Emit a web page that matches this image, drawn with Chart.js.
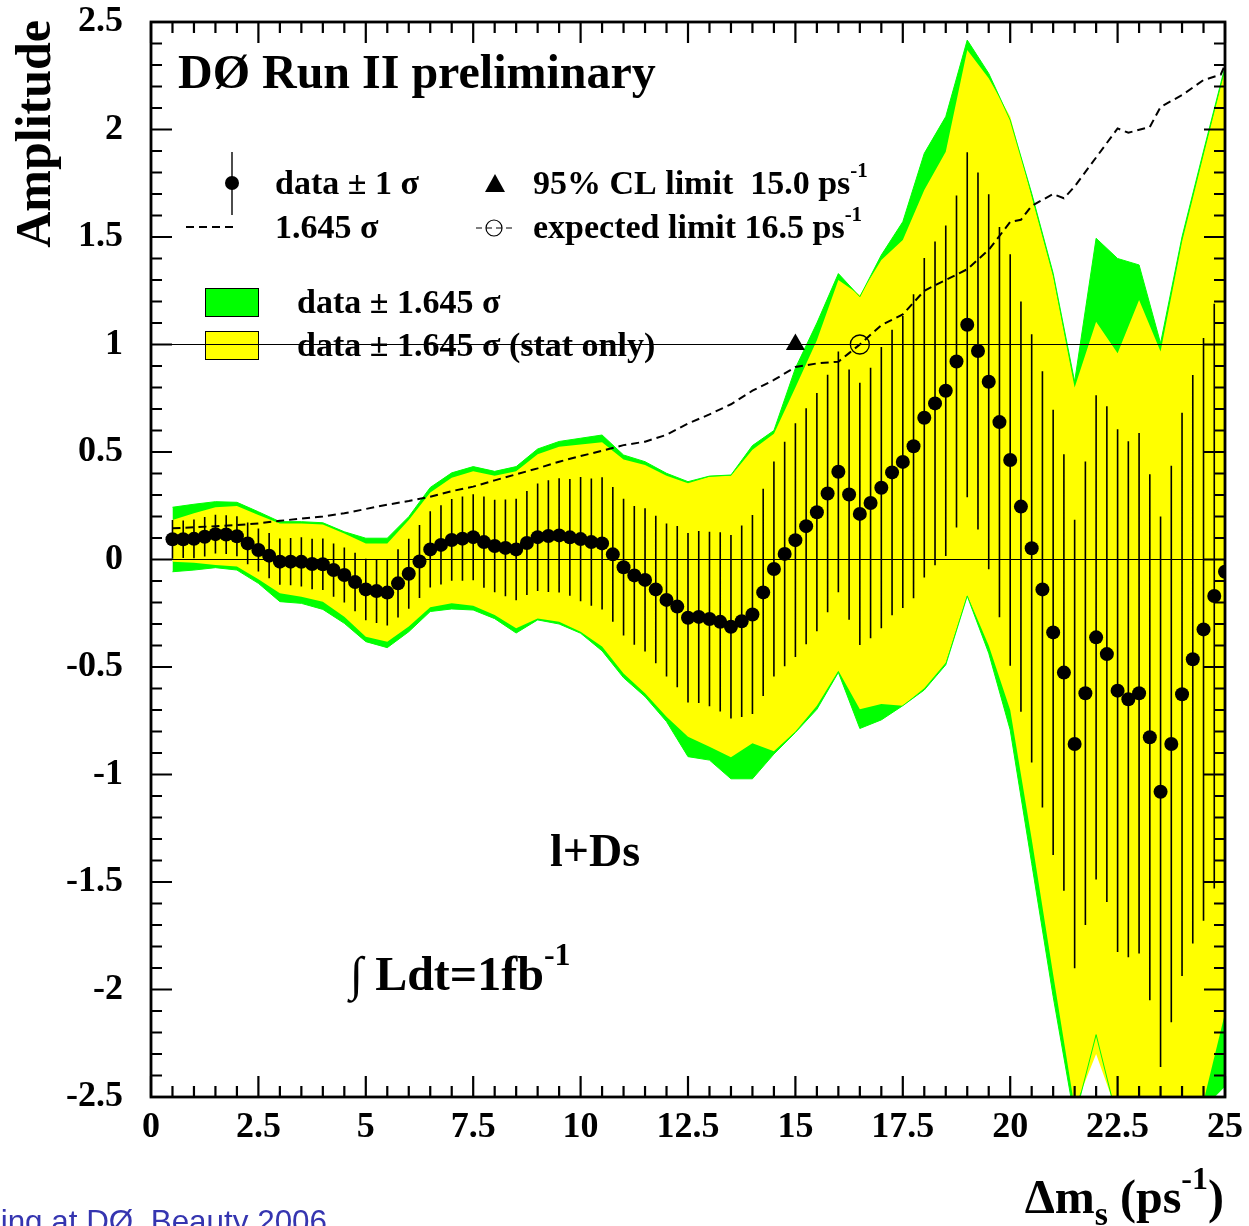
<!DOCTYPE html>
<html>
<head>
<meta charset="utf-8">
<title>Amplitude scan, l+Ds</title>
<script src="https://cdn.jsdelivr.net/npm/chart.js@4.4.1/dist/chart.umd.min.js"></script>
<style>
  html, body { margin: 0; padding: 0; background: #ffffff; }
  #wrap { position: relative; width: 1249px; height: 1226px; overflow: hidden; background: #ffffff; }
  canvas { display: block; }
</style>
</head>
<body>
<div id="wrap"><canvas id="chart" width="1249" height="1226"></canvas></div>
<script>
// ---- measured amplitude per Δm_s hypothesis (ps^-1) ----
const dmValues = [
  0.5, 0.75, 1.0, 1.25, 1.5, 1.75, 2.0, 2.25, 2.5, 2.75,
  3.0, 3.25, 3.5, 3.75, 4.0, 4.25, 4.5, 4.75, 5.0, 5.25,
  5.5, 5.75, 6.0, 6.25, 6.5, 6.75, 7.0, 7.25, 7.5, 7.75,
  8.0, 8.25, 8.5, 8.75, 9.0, 9.25, 9.5, 9.75, 10.0, 10.25,
  10.5, 10.75, 11.0, 11.25, 11.5, 11.75, 12.0, 12.25, 12.5, 12.75,
  13.0, 13.25, 13.5, 13.75, 14.0, 14.25, 14.5, 14.75, 15.0, 15.25,
  15.5, 15.75, 16.0, 16.25, 16.5, 16.75, 17.0, 17.25, 17.5, 17.75,
  18.0, 18.25, 18.5, 18.75, 19.0, 19.25, 19.5, 19.75, 20.0, 20.25,
  20.5, 20.75, 21.0, 21.25, 21.5, 21.75, 22.0, 22.25, 22.5, 22.75,
  23.0, 23.25, 23.5, 23.75, 24.0, 24.25, 24.5, 24.75, 25.0
];
const amplitude = [
  0.094, 0.094, 0.096, 0.106, 0.118, 0.116, 0.108, 0.075, 0.044, 0.018,
  -0.010, -0.010, -0.011, -0.021, -0.022, -0.049, -0.072, -0.105, -0.139, -0.147,
  -0.154, -0.111, -0.066, -0.009, 0.047, 0.068, 0.091, 0.097, 0.104, 0.081,
  0.063, 0.054, 0.047, 0.077, 0.104, 0.109, 0.112, 0.103, 0.095, 0.081,
  0.075, 0.024, -0.036, -0.074, -0.095, -0.139, -0.188, -0.219, -0.271, -0.267,
  -0.277, -0.290, -0.313, -0.287, -0.256, -0.153, -0.044, 0.026, 0.090, 0.155,
  0.220, 0.307, 0.408, 0.302, 0.212, 0.263, 0.334, 0.405, 0.454, 0.527,
  0.659, 0.726, 0.785, 0.921, 1.092, 0.970, 0.827, 0.639, 0.463, 0.246,
  0.052, -0.139, -0.339, -0.526, -0.858, -0.622, -0.362, -0.440, -0.610, -0.650,
  -0.622, -0.827, -1.080, -0.858, -0.627, -0.464, -0.325, -0.170, -0.057
];
// 1 sigma uncertainty on each amplitude
const sigma = [
  0.090, 0.087, 0.090, 0.092, 0.090, 0.090, 0.093, 0.097, 0.100, 0.105,
  0.108, 0.110, 0.115, 0.117, 0.120, 0.124, 0.128, 0.136, 0.143, 0.148,
  0.153, 0.159, 0.163, 0.170, 0.177, 0.184, 0.190, 0.196, 0.200, 0.212,
  0.215, 0.225, 0.236, 0.242, 0.250, 0.260, 0.266, 0.272, 0.289, 0.296,
  0.308, 0.313, 0.318, 0.323, 0.333, 0.343, 0.356, 0.375, 0.394, 0.400,
  0.406, 0.417, 0.427, 0.445, 0.463, 0.482, 0.500, 0.522, 0.544, 0.549,
  0.554, 0.552, 0.560, 0.582, 0.610, 0.629, 0.654, 0.664, 0.679, 0.707,
  0.743, 0.753, 0.769, 0.772, 0.802, 0.830, 0.872, 0.908, 0.957, 0.954,
  0.996, 1.015, 1.035, 1.015, 1.043, 1.078, 1.126, 1.153, 1.216, 1.200,
  1.210, 1.223, 1.280, 1.294, 1.310, 1.322, 1.355, 1.360, 1.380
];

// ---- data ± 1.645 sigma bands (total and stat only) ----
const bandDm = [
  0.5, 1.0, 1.5, 2.0, 2.5, 3.0, 3.5, 4.0, 4.5, 5.0,
  5.5, 6.0, 6.5, 7.0, 7.5, 8.0, 8.5, 9.0, 9.5, 10.0,
  10.5, 11.0, 11.5, 12.0, 12.5, 13.0, 13.5, 14.0, 14.5, 15.0,
  15.5, 16.0, 16.5, 17.0, 17.5, 18.0, 18.5, 19.0, 19.5, 20.0,
  20.5, 21.0, 21.5, 22.0, 22.5, 23.0, 23.5, 24.0, 24.5, 25.0
];
const totalHi = [
  0.243, 0.257, 0.269, 0.266, 0.222, 0.176, 0.176, 0.171, 0.129, 0.099,
  0.099, 0.199, 0.335, 0.403, 0.432, 0.410, 0.432, 0.514, 0.549, 0.564,
  0.579, 0.486, 0.455, 0.401, 0.362, 0.388, 0.393, 0.530, 0.600, 0.890,
  1.100, 1.330, 1.222, 1.416, 1.571, 1.889, 2.060, 2.416, 2.261, 2.044,
  1.703, 1.331, 0.827, 1.494, 1.400, 1.370, 1.006, 1.501, 1.900, 2.292
];
const totalLo = [
  -0.057, -0.049, -0.038, -0.049, -0.111, -0.196, -0.204, -0.232, -0.297, -0.382,
  -0.410, -0.336, -0.242, -0.230, -0.235, -0.275, -0.342, -0.281, -0.300, -0.343,
  -0.425, -0.550, -0.638, -0.754, -0.917, -0.933, -1.020, -1.020, -0.905, -0.805,
  -0.697, -0.525, -0.786, -0.746, -0.680, -0.607, -0.490, -0.170, -0.436, -0.793,
  -1.413, -2.033, -2.600, -2.210, -2.610, -2.610, -3.190, -2.780, -2.550, -2.450
];
const statHi = [
  0.184, 0.215, 0.243, 0.249, 0.207, 0.168, 0.168, 0.163, 0.121, 0.075,
  0.075, 0.184, 0.312, 0.380, 0.410, 0.390, 0.410, 0.490, 0.525, 0.535,
  0.545, 0.465, 0.440, 0.390, 0.355, 0.385, 0.390, 0.510, 0.585, 0.800,
  1.020, 1.300, 1.230, 1.393, 1.486, 1.719, 1.897, 2.370, 2.238, 2.060,
  1.687, 1.315, 0.800, 1.106, 0.959, 1.207, 0.967, 1.478, 1.880, 2.277
];
const statLo = [
  -0.010, -0.015, -0.026, -0.033, -0.092, -0.157, -0.173, -0.196, -0.266, -0.359,
  -0.382, -0.312, -0.222, -0.204, -0.215, -0.258, -0.320, -0.274, -0.289, -0.336,
  -0.405, -0.530, -0.622, -0.731, -0.824, -0.871, -0.920, -0.855, -0.892, -0.800,
  -0.680, -0.517, -0.697, -0.672, -0.680, -0.599, -0.480, -0.166, -0.400, -0.700,
  -1.300, -1.930, -2.550, -2.300, -2.580, -2.600, -3.100, -2.750, -2.520, -2.110
];

// ---- 1.645 sigma sensitivity curve ----
const sensDm = [
  0.5, 1.0, 1.5, 2.0, 2.5, 3.0, 3.5, 4.0, 4.5, 5.0,
  5.5, 6.0, 6.5, 7.0, 7.5, 8.0, 8.5, 9.0, 9.5, 10.0,
  10.5, 11.0, 11.5, 12.0, 12.5, 13.0, 13.5, 14.0, 14.5, 15.0,
  15.5, 16.0, 16.25, 16.5, 17.0, 17.5, 18.0, 18.5, 19.0, 19.5,
  20.0, 20.25, 20.5, 21.0, 21.25, 21.5, 22.0, 22.5, 22.75, 23.25,
  23.5, 24.0, 24.5, 24.9, 25.0
];
const sensAmp = [
  0.145, 0.150, 0.155, 0.160, 0.168, 0.180, 0.190, 0.200, 0.215, 0.235,
  0.255, 0.272, 0.292, 0.318, 0.339, 0.368, 0.396, 0.424, 0.455, 0.481,
  0.506, 0.532, 0.548, 0.580, 0.632, 0.675, 0.722, 0.785, 0.835, 0.895,
  0.912, 0.920, 0.960, 1.000, 1.090, 1.140, 1.250, 1.300, 1.350, 1.440,
  1.570, 1.580, 1.645, 1.700, 1.680, 1.735, 1.870, 2.005, 1.985, 2.012,
  2.105, 2.160, 2.230, 2.255, 2.300
];

// ---- limits ----
const clLimitDm = [15.0];
const clLimitAmp = [1.0];
const expLimitDm = [16.5];
const expLimitAmp = [1.0];

// ---- reference lines ----
const refLineDm = [0, 25];
const zeroAmp = [0, 0];
const unitAmp = [1, 1];

// ---- axes ----
const xTickValues = [0, 2.5, 5, 7.5, 10, 12.5, 15, 17.5, 20, 22.5, 25];
const xTickLabels = ['0', '2.5', '5', '7.5', '10', '12.5', '15', '17.5', '20', '22.5', '25'];
const yTickValues = [-2.5, -2, -1.5, -1, -0.5, 0, 0.5, 1, 1.5, 2, 2.5];
const yTickLabels = ['-2.5', '-2', '-1.5', '-1', '-0.5', '0', '0.5', '1', '1.5', '2', '2.5'];

const SERIF = '"Liberation Serif", "Times New Roman", Times, serif';
const GREEN = '#00ff00';
const YELLOW = '#ffff00';

const toXY = (xs, ys) => xs.map((x, i) => ({ x: x, y: ys[i] }));

// draw a run of text pieces (sub/superscripts) from a start point
function richWidth(ctx, segs) {
  let w = 0;
  segs.forEach(s => { ctx.font = s.font; w += ctx.measureText(s.text).width; });
  return w;
}
function drawRich(ctx, x, y, segs, align) {
  let cx = align === 'right' ? x - richWidth(ctx, segs) : x;
  ctx.textAlign = 'left';
  ctx.textBaseline = 'alphabetic';
  segs.forEach(s => {
    ctx.font = s.font;
    ctx.fillText(s.text, cx, y + (s.dy || 0));
    cx += ctx.measureText(s.text).width;
  });
}

const POINTS_INDEX = 8;

// vertical ±1 sigma bars, painted just before the markers
const errorBarPlugin = {
  id: 'errorBars',
  beforeDatasetDraw(chart, args) {
    if (args.index !== POINTS_INDEX) return;
    const { ctx, chartArea: a } = chart;
    const xs = chart.scales.x, ys = chart.scales.y;
    ctx.save();
    ctx.beginPath();
    ctx.rect(a.left, a.top, a.right - a.left, a.bottom - a.top);
    ctx.clip();
    ctx.strokeStyle = '#000000';
    ctx.lineWidth = 1.6;
    ctx.beginPath();
    dmValues.forEach((d, i) => {
      const px = xs.getPixelForValue(d);
      ctx.moveTo(px, ys.getPixelForValue(amplitude[i] + sigma[i]));
      ctx.lineTo(px, ys.getPixelForValue(amplitude[i] - sigma[i]));
    });
    ctx.stroke();
    ctx.restore();
  }
};

// legend block in the upper-left of the frame
const legendPlugin = {
  id: 'amplitudeLegend',
  beforeDatasetsDraw(chart) {
    const ctx = chart.ctx;
    ctx.save();
    ctx.fillStyle = '#000';
    ctx.strokeStyle = '#000';
    const big = 'bold 34px ' + SERIF;
    const sup = 'bold 21px ' + SERIF;

    // data ± 1 sigma sample
    ctx.lineWidth = 1.4;
    ctx.beginPath();
    ctx.moveTo(232, 152); ctx.lineTo(232, 215);
    ctx.stroke();
    ctx.beginPath();
    ctx.arc(232, 183, 7, 0, Math.PI * 2);
    ctx.fill();
    drawRich(ctx, 275, 194, [{ text: 'data \u00b1 1 \u03c3', font: big }]);

    // 1.645 sigma dashed sample
    ctx.lineWidth = 2;
    ctx.setLineDash([8, 5]);
    ctx.beginPath();
    ctx.moveTo(186, 227); ctx.lineTo(238, 227);
    ctx.stroke();
    ctx.setLineDash([]);
    drawRich(ctx, 275, 238, [{ text: '1.645 \u03c3', font: big }]);

    // 95% CL limit marker
    ctx.beginPath();
    ctx.moveTo(495, 174); ctx.lineTo(505, 192); ctx.lineTo(485, 192);
    ctx.closePath();
    ctx.fill();
    drawRich(ctx, 533, 194, [
      { text: '95% CL limit  15.0 ps', font: big },
      { text: '-1', font: sup, dy: -17 }
    ]);

    // expected limit marker
    ctx.lineWidth = 1.2;
    ctx.setLineDash([6, 4]);
    ctx.beginPath();
    ctx.moveTo(476, 228); ctx.lineTo(512, 228);
    ctx.stroke();
    ctx.setLineDash([]);
    ctx.beginPath();
    ctx.arc(494, 228, 8, 0, Math.PI * 2);
    ctx.stroke();
    drawRich(ctx, 533, 238, [
      { text: 'expected limit 16.5 ps', font: big },
      { text: '-1', font: sup, dy: -17 }
    ]);

    // band swatches
    ctx.lineWidth = 1;
    ctx.fillStyle = GREEN;
    ctx.fillRect(205, 288, 53, 28);
    ctx.strokeRect(205.5, 288.5, 53, 28);
    ctx.fillStyle = YELLOW;
    ctx.fillRect(205, 331, 53, 28);
    ctx.strokeRect(205.5, 331.5, 53, 28);
    ctx.fillStyle = '#000';
    drawRich(ctx, 297, 313, [{ text: 'data \u00b1 1.645 \u03c3', font: big }]);
    drawRich(ctx, 297, 356, [{ text: 'data \u00b1 1.645 \u03c3 (stat only)', font: big }]);
    ctx.restore();
  }
};

// frame with inward ticks, titles and labels
const framePlugin = {
  id: 'frameAndTitles',
  afterDraw(chart) {
    const { ctx, chartArea: a } = chart;
    const xs = chart.scales.x, ys = chart.scales.y;
    ctx.save();
    ctx.strokeStyle = '#000';
    ctx.lineWidth = 2.2;
    ctx.beginPath();
    // x ticks (minor every 0.5, major every 2.5)
    for (let k = 0; k <= 50; k++) {
      const v = k * 0.5;
      const px = xs.getPixelForValue(v);
      const len = (k % 5 === 0) ? 21 : 11;
      ctx.moveTo(px, a.bottom); ctx.lineTo(px, a.bottom - len);
      ctx.moveTo(px, a.top); ctx.lineTo(px, a.top + len);
    }
    // y ticks (minor every 0.1, major every 0.5)
    for (let k = 0; k <= 50; k++) {
      const v = -2.5 + k * 0.1;
      const py = ys.getPixelForValue(v);
      const len = (k % 5 === 0) ? 21 : 11;
      ctx.moveTo(a.left, py); ctx.lineTo(a.left + len, py);
      ctx.moveTo(a.right, py); ctx.lineTo(a.right - len, py);
    }
    ctx.stroke();
    ctx.lineWidth = 2.8;
    ctx.strokeRect(a.left, a.top, a.right - a.left, a.bottom - a.top);

    ctx.fillStyle = '#000';
    // y axis title
    ctx.save();
    ctx.translate(50, 20);
    ctx.rotate(-Math.PI / 2);
    ctx.font = 'bold 50px ' + SERIF;
    ctx.textAlign = 'right';
    ctx.textBaseline = 'alphabetic';
    ctx.fillText('Amplitude', 0, 0);
    ctx.restore();

    // x axis title
    drawRich(ctx, 1224, 1213, [
      { text: '\u0394m', font: 'bold 48px ' + SERIF },
      { text: 's', font: 'bold 34px ' + SERIF, dy: 12 },
      { text: ' (ps', font: 'bold 48px ' + SERIF },
      { text: '-1', font: 'bold 32px ' + SERIF, dy: -24 },
      { text: ')', font: 'bold 48px ' + SERIF }
    ], 'right');

    // experiment label and annotations
    drawRich(ctx, 178, 88, [{ text: 'D\u00d8 Run II preliminary', font: 'bold 48px ' + SERIF }]);
    drawRich(ctx, 550, 866, [{ text: 'l+Ds', font: 'bold 46px ' + SERIF }]);
    drawRich(ctx, 350, 990, [
      { text: '\u222b', font: '48px ' + SERIF },
      { text: ' Ldt=1fb', font: 'bold 48px ' + SERIF },
      { text: '-1', font: 'bold 32px ' + SERIF, dy: -25 }
    ]);

    // slide footer
    ctx.fillStyle = '#3535b0';
    ctx.font = '31.4px "Liberation Sans", Arial, sans-serif';
    ctx.textAlign = 'right';
    ctx.textBaseline = 'alphabetic';
    ctx.fillText('Mixing at D\u00d8, Beauty 2006', 327, 1232);
    ctx.restore();
  }
};

const ctx = document.getElementById('chart').getContext('2d');
new Chart(ctx, {
  type: 'line',
  data: {
    datasets: [
      { // 0: total band upper edge, filled down to dataset 1
        data: toXY(bandDm, totalHi), fill: 1, backgroundColor: GREEN,
        borderWidth: 0, pointRadius: 0, tension: 0, order: 100, clip: 0
      },
      { // 1
        data: toXY(bandDm, totalLo), fill: false,
        borderWidth: 0, pointRadius: 0, tension: 0, order: 100, clip: 0
      },
      { // 2: stat-only band, filled down to dataset 3
        data: toXY(bandDm, statHi), fill: 3, backgroundColor: YELLOW,
        borderWidth: 0, pointRadius: 0, tension: 0, order: 90, clip: 0
      },
      { // 3
        data: toXY(bandDm, statLo), fill: false,
        borderWidth: 0, pointRadius: 0, tension: 0, order: 90, clip: 0
      },
      { // 4: total band outlines
        data: toXY(bandDm, totalHi), fill: false, borderColor: GREEN,
        borderWidth: 1, pointRadius: 0, tension: 0, order: 80, clip: 0
      },
      { // 5
        data: toXY(bandDm, totalLo), fill: false, borderColor: GREEN,
        borderWidth: 1, pointRadius: 0, tension: 0, order: 80, clip: 0
      },
      { // 6: amplitude = 0
        data: toXY(refLineDm, zeroAmp), fill: false, borderColor: '#000',
        borderWidth: 1.2, pointRadius: 0, order: 70, clip: 0
      },
      { // 7: amplitude = 1
        data: toXY(refLineDm, unitAmp), fill: false, borderColor: '#000',
        borderWidth: 1.2, pointRadius: 0, order: 70, clip: 0
      },
      { // 8: measured amplitudes
        data: toXY(dmValues, amplitude), showLine: false, fill: false,
        pointStyle: 'circle', pointRadius: 7, pointBackgroundColor: '#000',
        pointBorderColor: '#000', pointBorderWidth: 0, order: 50, clip: 0
      },
      { // 9: 1.645 sigma sensitivity
        data: toXY(sensDm, sensAmp), fill: false, borderColor: '#000',
        borderWidth: 2, borderDash: [8, 5], pointRadius: 0, tension: 0,
        order: 40, clip: 0
      },
      { // 10: 95% CL limit
        data: toXY(clLimitDm, clLimitAmp), showLine: false,
        pointStyle: 'triangle', pointRadius: 11, pointBackgroundColor: '#000',
        pointBorderColor: '#000', pointBorderWidth: 0, order: 30
      },
      { // 11: expected limit
        data: toXY(expLimitDm, expLimitAmp), showLine: false,
        pointStyle: 'circle', pointRadius: 9.5, pointBackgroundColor: 'rgba(0,0,0,0)',
        pointBorderColor: '#000', pointBorderWidth: 1.3, order: 30
      }
    ]
  },
  options: {
    responsive: false,
    animation: false,
    devicePixelRatio: 1,
    events: [],
    layout: { padding: { top: 22, right: 24, left: 0, bottom: 0 } },
    plugins: {
      legend: { display: false },
      tooltip: { enabled: false },
      filler: { propagate: false }
    },
    scales: {
      x: {
        type: 'linear', min: 0, max: 25,
        grid: { display: false, drawTicks: false, tickLength: 0 },
        border: { display: false },
        afterBuildTicks: s => { s.ticks = xTickValues.map(v => ({ value: v })); },
        afterFit: s => {
          s.height = 129;
          s.paddingLeft = 0; s.paddingRight = 0; s.paddingTop = 0; s.paddingBottom = 0;
        },
        ticks: {
          autoSkip: false, maxRotation: 0, padding: 13, color: '#000',
          font: { family: SERIF, size: 36, weight: 'bold', lineHeight: 1 },
          callback: (v, i) => xTickLabels[i]
        }
      },
      y: {
        type: 'linear', min: -2.5, max: 2.5,
        grid: { display: false, drawTicks: false, tickLength: 0 },
        border: { display: false },
        afterBuildTicks: s => { s.ticks = yTickValues.map(v => ({ value: v })); },
        afterFit: s => {
          s.width = 151;
          s.paddingLeft = 0; s.paddingRight = 0; s.paddingTop = 0; s.paddingBottom = 0;
        },
        ticks: {
          autoSkip: false, padding: 28, color: '#000',
          font: { family: SERIF, size: 36, weight: 'bold', lineHeight: 1 },
          callback: (v, i) => yTickLabels[i]
        }
      }
    }
  },
  plugins: [legendPlugin, errorBarPlugin, framePlugin]
});
</script>
</body>
</html>
